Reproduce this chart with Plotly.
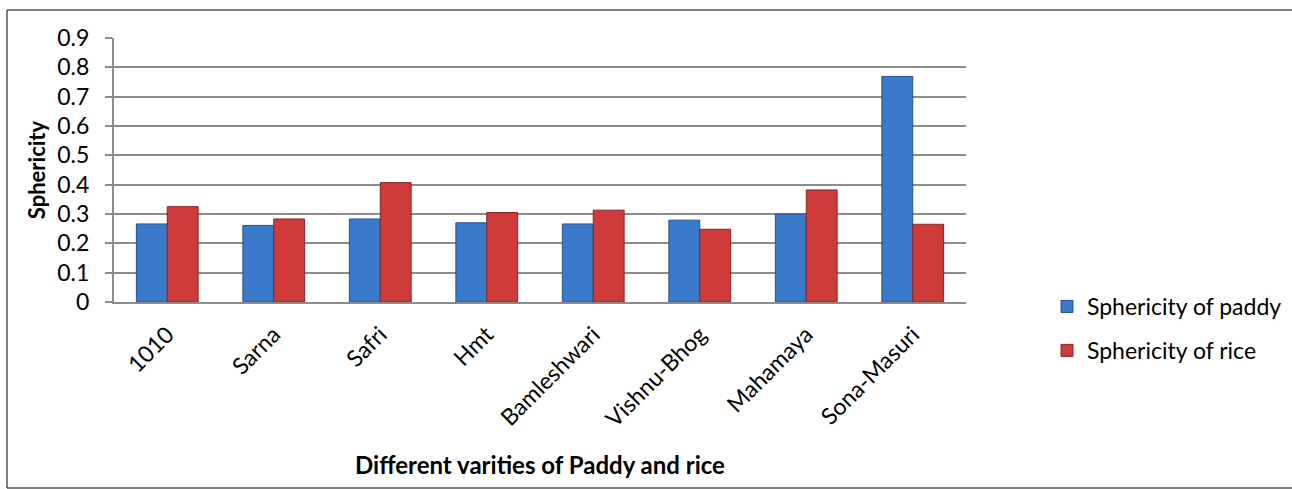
import plotly.graph_objects as go

categories = ["1010", "Sarna", "Safri", "Hmt", "Bamleshwari", "Vishnu-Bhog", "Mahamaya", "Sona-Masuri"]
paddy = [0.266, 0.261, 0.283, 0.270, 0.266, 0.279, 0.300, 0.769]
rice = [0.325, 0.283, 0.407, 0.305, 0.313, 0.248, 0.382, 0.265]
y_ticks = [0, 0.1, 0.2, 0.3, 0.4, 0.5, 0.6, 0.7, 0.8, 0.9]
y_tick_text = ["0", "0.1", "0.2", "0.3", "0.4", "0.5", "0.6", "0.7", "0.8", "0.9"]

FONT = "Lato, 'Open Sans', sans-serif"

fig = go.Figure()
fig.add_trace(go.Bar(
    x=categories, y=paddy, name="Sphericity of paddy", legendgroup="a",
    marker=dict(color="#3b7acb", line=dict(color="#24528f", width=1)),
))
fig.add_trace(go.Bar(
    x=categories, y=rice, name="Sphericity of rice", legendgroup="b",
    marker=dict(color="#cf3b3b", line=dict(color="#8a2323", width=1)),
))

W, H = 1292, 489
L, R, T, B = 114, 326, 38, 187
pw = W - L - R
ph = H - T - B

fig.update_layout(
    width=W, height=H,
    margin=dict(l=L, r=R, t=T, b=B, autoexpand=False),
    paper_bgcolor="white", plot_bgcolor="white",
    barmode="group", bargap=0.42, bargroupgap=0.0,
    font=dict(family=FONT, color="#000000"),
    legend=dict(
        x=(1047 - L) / pw, y=(302 - 285) / ph, xanchor="left", yanchor="top",
        font=dict(size=23, family=FONT), tracegroupgap=11,
        itemwidth=30,
    ),
    xaxis=dict(
        tickangle=-45, tickfont=dict(size=23, family=FONT),
        showline=True, linecolor="#8c8c8c", linewidth=2,
        ticks="", showgrid=False, ticklabelstandoff=8,
        title=dict(text="<b>Different varities of Paddy and rice</b>",
                   font=dict(size=24, family=FONT), standoff=26),
    ),
    yaxis=dict(
        range=[0, 0.9], tickvals=y_ticks, ticktext=y_tick_text,
        tickfont=dict(size=23, family=FONT),
        showgrid=True, gridcolor="#8c8c8c", gridwidth=2,
        showline=True, linecolor="#8c8c8c", linewidth=2,
        ticks="outside", ticklen=7, tickcolor="#8c8c8c", tickwidth=2,
        ticklabelstandoff=11,
        zeroline=False,
        title=dict(text="<b>Sphericity</b>", font=dict(size=22, family=FONT), standoff=6),
    ),
    shapes=[dict(
        type="rect", xref="paper", yref="paper",
        x0=(7 - L) / pw, x1=(1300 - L) / pw,
        y0=(302 - 488) / ph, y1=(302 - 10) / ph,
        line=dict(color="#000000", width=1), fillcolor="rgba(0,0,0,0)",
        layer="below",
    )],
)

fig.write_html("out.html")
